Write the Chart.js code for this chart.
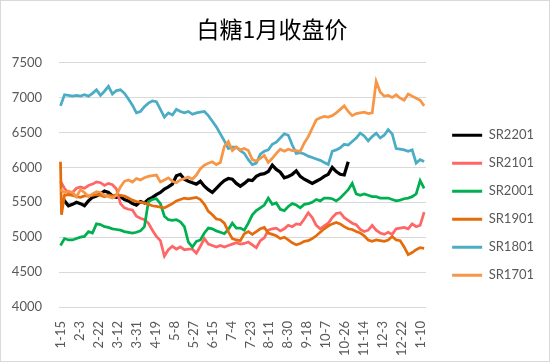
<!DOCTYPE html>
<html lang="zh">
<head>
  <meta charset="UTF-8">
  <title>白糖1月收盘价</title>
  <script src="https://cdn.jsdelivr.net/npm/chart.js"></script>
  <style>
    html, body { margin: 0; padding: 0; background: #fff; }
    #wrap { width: 550px; height: 362px; }
  </style>
</head>
<body>
  <div id="wrap"><canvas id="sugarChart"></canvas></div>

  <script>
    // days after 1-15 (calendar days, the axis is a date axis)
    const days = [0, 1, 4, 8, 12, 16, 20, 24, 28, 32, 36, 40, 44, 48, 52, 56, 60, 64, 68, 72, 76,
      80, 84, 88, 92, 96, 100, 104, 108, 112, 116, 120, 124, 128, 132, 136, 140, 144, 148, 152, 156,
      160, 164, 168, 172, 176, 180, 184, 188, 192, 196, 200, 204, 208, 212, 216, 220, 224, 228, 232, 236,
      240, 244, 248, 252, 256, 260, 264, 268, 272, 276, 280, 284, 288, 292, 296, 300, 304, 308, 312, 316,
      320, 324, 328, 332, 336, 340, 344, 348, 352, 356, 360, 364];

    // x axis labels, one every 19 days
    const tickLabels = ['1-15', '2-3', '2-22', '3-12', '3-31', '4-19', '5-8', '5-27', '6-15', '7-4',
      '7-23', '8-11', '8-30', '9-18', '10-7', '10-26', '11-14', '12-3', '12-22', '1-10'];
    const tickStep = 19;

    const sr2201 = [5510, null, 5520, 5450, 5470, 5500, 5480, 5450, 5520, 5570, 5590,
      5620, 5660, 5640, 5590, 5570, 5580, 5540, 5520, 5480, 5460,
      5510, 5490, 5540, 5570, 5610, 5640, 5690, 5720, 5760, 5880,
      5900, 5830, 5800, 5780, 5760, 5800, 5730, 5680, 5640, 5700,
      5760, 5810, 5840, 5830, 5770, 5730, 5770, 5820, 5810, 5870,
      5900, 5910, 5940, 6030, 5970, 5930, 5850, 5870, 5900, 5950,
      5870, 5830, 5800, 5770, 5800, 5830, 5870, 5900, 6000, 5940,
      5900, 5890, 6080, null, null, null, null, null, null, null,
      null, null, null, null, null, null, null, null, null, null, null, null];

    const sr2101 = [5800, null, 5700, 5630, 5640, 5700, 5720, 5700, 5740, 5760, 5790,
      5780, 5740, 5770, 5750, 5690, 5480, 5420, 5400, 5390, 5300,
      5270, 5250, 5200, 5100, 5010, 4950, 4730, 4820, 4870, 4830,
      4860, 4820, 4830, 4830, 4770, 4870, 4980, 4900, 4880, 4860,
      4880, 4860, 4880, 4900, 4920, 4900, 4910, 4930, 4890, 4850,
      4950, 4990, 5100, 5120, 5130, 5090, 5120, 5170, 5150, 5190,
      5180, 5260, 5350, 5280, 5170, 5120, 5160, 5200, 5280, 5340,
      5350, 5280, 5240, 5200, 5180, 5110, 5080, 5100, 5170, 5100,
      5060, 5040, 5070, 5040, 5120, 5130, 5140, 5120, 5190, 5150,
      5170, 5360];

    const sr2001 = [4880, null, 4980, 4960, 4960, 4980, 5000, 5010, 5080, 5060, 5190,
      5180, 5150, 5140, 5120, 5110, 5100, 5080, 5070, 5060, 5070,
      5090, 5150, 5510, 5540, 5550, 5480, 5300, 5250, 5240, 5250,
      5220, 5150, 4930, 4860, 4940, 4960, 5060, 5130, 5120, 5090,
      5070, 5050, 5110, 5200, 5130, 5130, 5100, 5200, 5320, 5380,
      5420, 5460, 5560, 5470, 5490, 5400, 5380, 5440, 5480, 5460,
      5420, 5470, 5480, 5500, 5540, 5520, 5560, 5560, 5550, 5520,
      5560, 5620, 5680, 5770, 5620, 5600, 5620, 5600, 5580, 5580,
      5560, 5560, 5560, 5540, 5520, 5530, 5550, 5560, 5580, 5620,
      5810, 5700];

    const sr1901 = [6080, 5320, 5600, 5610, 5600, 5580, 5570, 5590, 5590, 5600, 5610,
      5600, 5580, 5600, 5590, 5610, 5600, 5590, 5560, 5530, 5510,
      5500, 5490, 5470, 5450, 5440, 5430, 5420, 5450, 5480, 5520,
      5540, 5560, 5550, 5560, 5570, 5540, 5470, 5370, 5320, 5260,
      5250, 5200, 5080, 4980, 4960, 4950, 5050, 5080, 5040, 5080,
      5120, 5140, 5060, 5040, 5020, 4980, 5000, 4960, 4920, 4890,
      4910, 4940, 4950, 4980, 5020, 5070, 5120, 5160, 5190, 5210,
      5190, 5150, 5120, 5110, 5080, 5060, 5020, 4960, 4940, 4960,
      4950, 4940, 4960, 5010, 4960, 4950, 4860, 4750, 4780, 4820,
      4850, 4840];

    const sr1801 = [6880, null, 7040, 7030, 7020, 7030, 7020, 7040, 7020, 7060, 7110,
      7030, 7090, 7160, 7050, 7100, 7110, 7060, 6980, 6890, 6780,
      6800, 6870, 6920, 6950, 6940, 6830, 6720, 6780, 6750, 6830,
      6800, 6780, 6800, 6760, 6780, 6790, 6800, 6740, 6660, 6580,
      6480, 6380, 6270, 6290, 6290, 6240, 6200, 6110, 6040, 6060,
      6190, 6230, 6250, 6330, 6360, 6420, 6480, 6460, 6320, 6200,
      6210, 6190, 6160, 6140, 6120, 6100, 6070, 6040, 6230, 6250,
      6280, 6330, 6320, 6370, 6420, 6490, 6450, 6380, 6440, 6490,
      6420, 6460, 6540, 6480, 6270, 6260, 6250, 6230, 6250, 6060,
      6110, 6085];

    const sr1701 = [5680, null, 5640, 5660, 5640, 5580, 5680, 5640, 5580, 5620, 5650,
      5640, 5600, 5580, 5560, 5600, 5720, 5800, 5820, 5790, 5840,
      5820, 5850, 5870, 5880, 5890, 5790, 5820, 5850, 5800, 5780,
      5820, 5840, 5860, 5830, 5890, 5980, 6030, 6060, 6080, 6040,
      6070, 6300, 6370, 6240, 6290, 6250, 6270, 6240, 6110, 6090,
      6130, 6170, 6070, 6130, 6200, 6260, 6230, 6260, 6240, 6240,
      6230, 6350, 6440, 6560, 6680, 6710, 6730, 6720, 6740, 6780,
      6830, 6880, 6800, 6740, 6770, 6780, 6790, 6770, 6780, 7230,
      7080, 7020, 7030, 7000, 7040, 6990, 6960, 7050, 7020, 6990,
      6960, 6880];

    const seriesNames = ['SR2201', 'SR2101', 'SR2001', 'SR1901', 'SR1801', 'SR1701'];
    const seriesValues = [sr2201, sr2101, sr2001, sr1901, sr1801, sr1701];
    const seriesColors = ['#000000', '#FF6666', '#00B050', '#E46C0A', '#4BACC6', '#F79646'];

    const FONT = 'Lato, "Noto Sans", sans-serif';
    const GREY = '#595959';

    // white background and thin frame round the whole picture
    const frame = {
      id: 'frame',
      beforeDraw(chart) {
        const c = chart.ctx;
        c.save();
        c.fillStyle = '#ffffff';
        c.fillRect(0, 0, chart.width, chart.height);
        c.strokeStyle = '#d9d9d9';
        c.lineWidth = 1;
        c.strokeRect(0.5, 0.5, chart.width - 1, chart.height - 1);
        c.restore();
      }
    };

    const ctx = document.getElementById('sugarChart').getContext('2d');
    const sugarChart = new Chart(ctx, {
      type: 'line',
      data: {
        datasets: seriesNames.map((name, i) => ({
          label: name,
          data: days.map((d, j) => ({ x: d, y: seriesValues[i][j] })),
          borderColor: seriesColors[i],
          backgroundColor: seriesColors[i],
          borderWidth: i === 0 ? 3.25 : 2.75,
          pointRadius: 0,
          tension: 0,
          spanGaps: true,
          order: -i // later series drawn on top, like the original
        }))
      },
      options: {
        responsive: true,
        maintainAspectRatio: false,
        animation: false,
        layout: { padding: { left: 0, right: 6, top: 0, bottom: 0 } },
        plugins: {
          title: {
            display: true,
            text: '白糖1月收盘价',
            color: '#000000',
            font: { family: '"Noto Sans CJK SC", sans-serif', size: 23, weight: 'normal' },
            padding: { top: 15, bottom: 20 }
          },
          legend: {
            position: 'right',
            maxWidth: 130,
            // empty title only pushes the centred column down
            title: { display: true, text: ' ', font: { size: 12 }, padding: { top: 17, bottom: 17 } },
            labels: {
              boxWidth: 30,
              boxHeight: 3,
              padding: 15,
              color: GREY,
              font: { family: FONT, size: 13 },
              sort: (a, b) => a.datasetIndex - b.datasetIndex,
              generateLabels: chart => Chart.defaults.plugins.legend.labels.generateLabels(chart)
                .map(l => ({ ...l, lineWidth: 0 }))
            }
          },
          tooltip: { enabled: false }
        },
        scales: {
          x: {
            type: 'linear',
            min: -1.5,
            max: 366,
            grid: { display: false },
            border: { display: false },
            afterBuildTicks: s => {
              s.ticks = tickLabels.map((t, i) => ({ value: i * tickStep }));
            },
            afterFit: s => { s.height = 55; },
            ticks: {
              autoSkip: false,
              minRotation: 90,
              maxRotation: 90,
              padding: 6,
              color: GREY,
              font: { family: FONT, size: 13 },
              callback: (v, i) => tickLabels[i]
            }
          },
          y: {
            min: 4000,
            max: 7500,
            grid: { color: '#d9d9d9', lineWidth: 1, drawTicks: false },
            border: { display: false },
            afterFit: s => { s.width = 59; },
            ticks: {
              stepSize: 500,
              padding: 17,
              color: GREY,
              font: { family: FONT, size: 13 },
              callback: v => String(v)
            }
          },
          gap: {
            position: 'right',
            display: true,
            grid: { display: false },
            border: { display: false },
            ticks: { display: false },
            afterFit: s => { s.width = 11; }
          }
        }
      },
      plugins: [frame]
    });
  </script>
</body>
</html>
